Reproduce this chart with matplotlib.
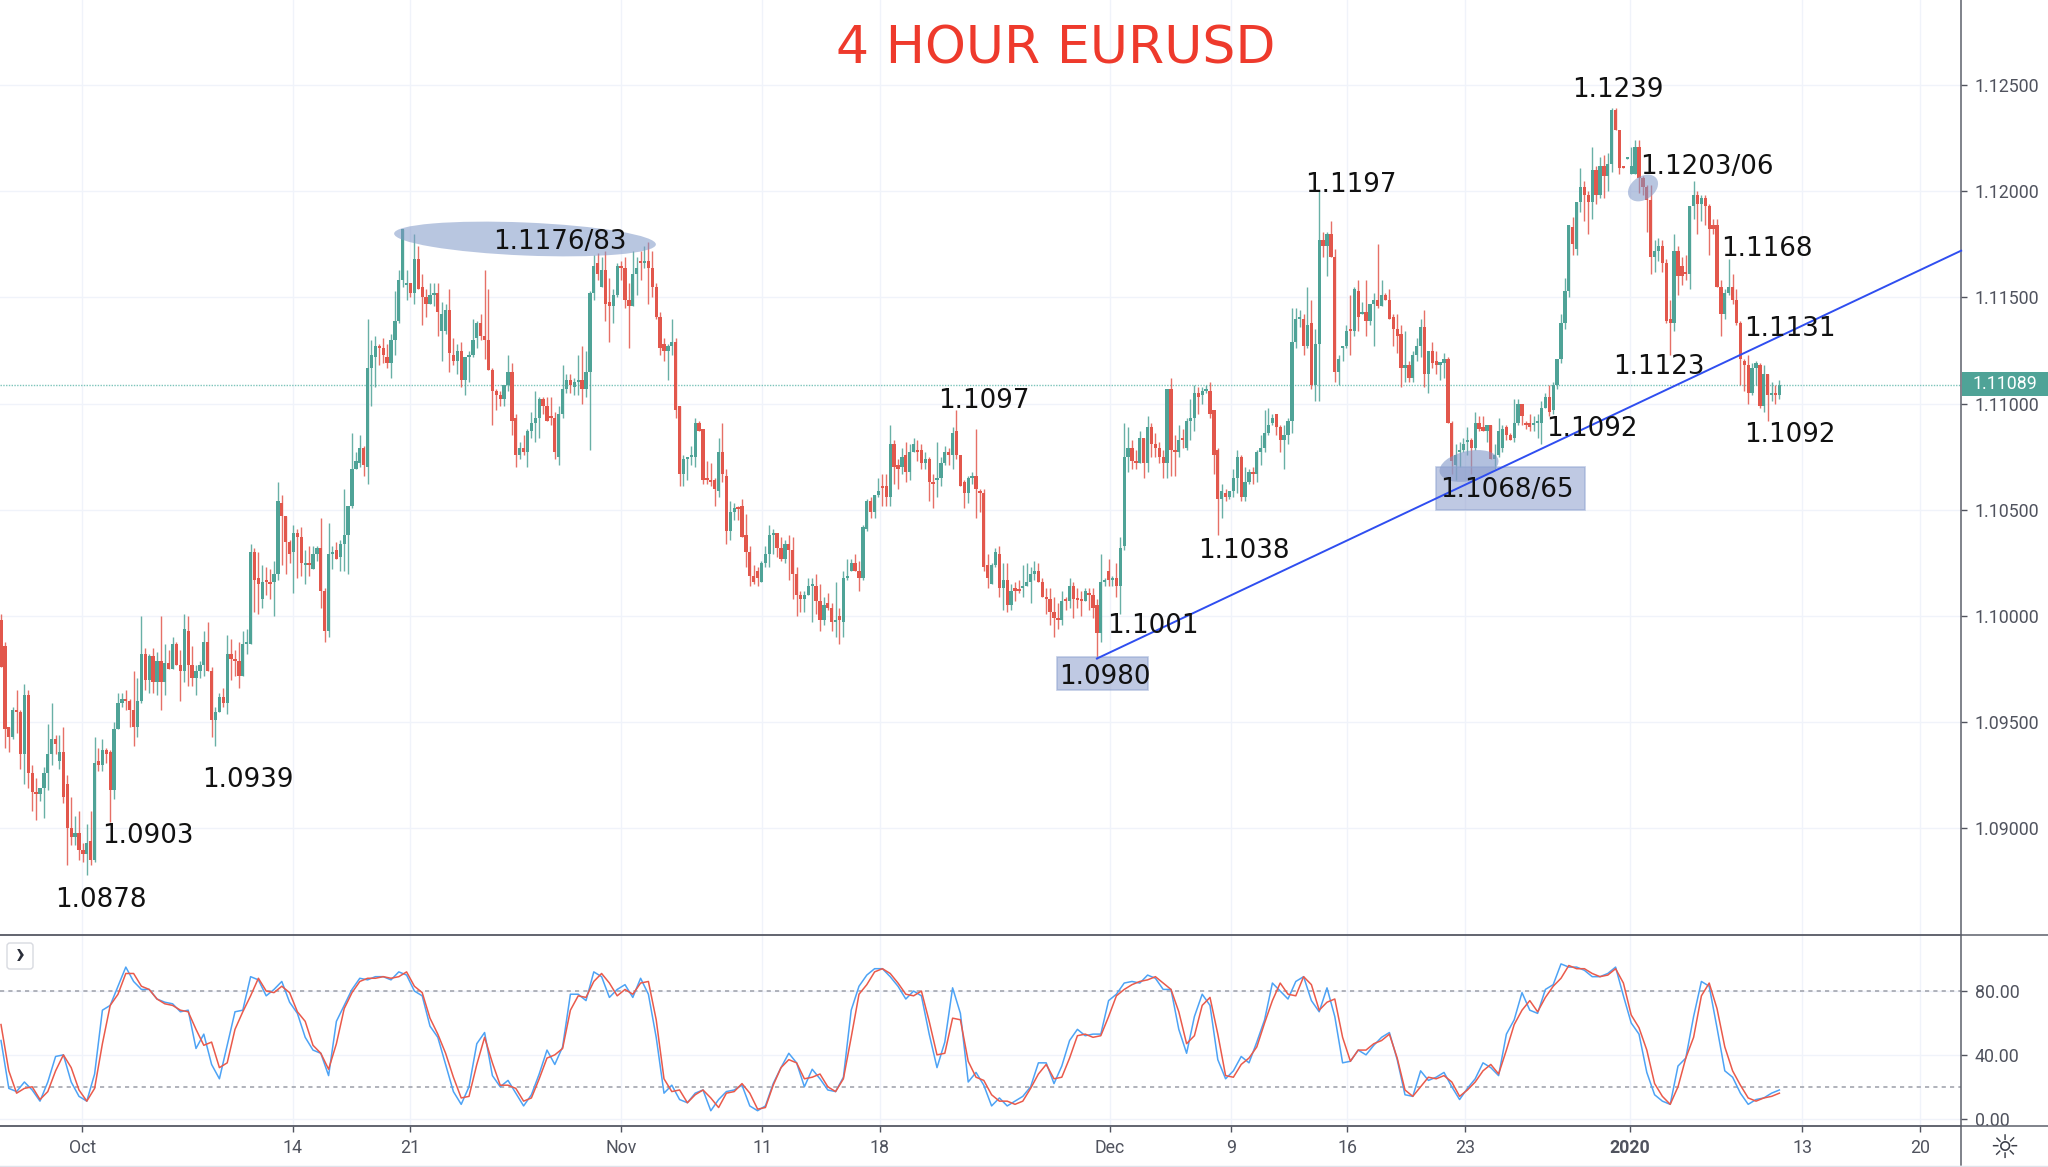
#4 hour EURUSD chart with stochastic pane
import numpy as np
import matplotlib
matplotlib.use('Agg')
import matplotlib.pyplot as plt
from matplotlib.patches import Ellipse, Rectangle, FancyBboxPatch

# candles are (open, high, low, close) in pips, 1000 = 1.1000
sep_bars = [
(998,1001,976,976),(986,988,938,947),(948,948,936,943),(943,957,942,956),(956,965,945,955),(955,956,928,935),
(935,968,921,963),(963,965,919,926),(926,930,908,917),(917,924,904,916),(916,919,913,919),(919,929,905,926),
(926,949,918,935),(935,959,930,942),(942,944,935,940),(932,944,928,936),(936,948,912,915),(921,925,883,900),
(900,915,892,896),(896,906,892,898),(898,908,885,890),(890,893,884,888),
]
oct_bars = [
(888,902,878,893),(894,908,883,885),(885,943,884,931),(932,938,927,930),(930,942,927,937),(937,938,931,935),
(936,937,903,918),(918,950,914,947),(947,964,947,959),(959,964,957,961),(961,965,956,960),(960,961,948,956),
(956,974,939,948),(948,971,943,960),(960,1000,959,982),(982,985,965,970),(970,982,964,981),(981,985,964,969),
(969,983,963,979),(979,1000,956,969),(969,987,963,978),(978,984,975,975),(975,990,975,987),(987,988,977,977),
(977,984,960,974),(974,1001,969,994),(993,1000,967,977),(977,986,967,971),(971,977,963,974),(974,979,971,977),
(977,993,972,988),(988,997,974,974),(974,976,943,951),(951,957,939,955),(955,964,955,962),(962,966,957,959),
(959,991,954,982),(982,989,970,980),(980,984,972,979),(979,988,966,972),(972,993,972,987),(987,994,982,988),
(987,1034,987,1030),(1030,1032,1002,1017),(1018,1030,1001,1015),(1008,1024,1004,1016),(1017,1023,1010,1016),(1016,1022,1008,1015),
(1016,1026,1000,1020),(1020,1063,1017,1054),(1053,1057,1024,1047),(1047,1047,1020,1035),(1035,1036,1025,1029),(1030,1043,1011,1039),
(1039,1041,1018,1037),
(1037,1042,1019,1025),(1024,1031,1015,1025),(1025,1033,1019,1024),(1022,1033,1022,1029),(1029,1033,1026,1032),(1032,1046,1004,1012),
(1012,1013,988,993),(993,1044,990,1029),(1029,1033,1022,1030),(1031,1035,1027,1027),(1028,1036,1021,1034),(1034,1060,1021,1038),
(1038,1052,1020,1052),(1052,1086,1051,1069),(1069,1077,1070,1073),(1072,1085,1070,1079),(1079,1080,1066,1071),(1070,1140,1062,1117),
(1117,1130,1099,1123),(1122,1132,1108,1127),(1127,1128,1118,1126),(1126,1131,1119,1123),(1122,1128,1117,1119),(1119,1133,1112,1130),
(1130,1153,1123,1139),(1139,1163,1138,1158),(1158,1182,1155,1182),(1156,1163,1149,1157),(1157,1157,1150,1152),(1152,1180,1147,1168),
(1168,1174,1154,1154),(1155,1161,1137,1150),(1150,1154,1141,1147),(1147,1157,1147,1151),(1151,1157,1146,1152),(1152,1157,1132,1143),
(1134,1148,1120,1142),(1134,1147,1133,1144),(1144,1154,1115,1124),(1123,1131,1118,1120),(1120,1128,1114,1125),(1125,1129,1108,1111),
(1111,1122,1104,1122),(1122,1125,1110,1123),(1123,1140,1122,1130),(1131,1139,1126,1138),(1138,1142,1130,1132),(1132,1163,1121,1130),
(1130,1154,1116,1116),(1116,1117,1090,1106),(1106,1107,1097,1104),(1104,1106,1099,1102),(1102,1109,1099,1109),(1109,1123,1106,1115),
(1115,1119,1085,1092),(1093,1095,1070,1076),(1076,1082,1074,1079),(1079,1085,1076,1077),(1077,1088,1070,1087),(1087,1096,1084,1091),
(1091,1106,1082,1093),(1093,1103,1084,1102),(1102,1103,1095,1099),(1099,1103,1092,1092),(1094,1103,1090,1093),(1093,1096,1074,1077),
(1075,1099,1071,1095),(1095,1118,1093,1107),(1107,1114,1105,1111),(1111,1114,1105,1109),(1108,1112,1104,1110),(1110,1123,1104,1111),
(1111,1127,1100,1107),(1107,1125,1103,1115),(1115,1153,1078,1152),(1152,1170,1149,1165),(1166,1171,1158,1161),
(1155,1169,1155,1163),(1163,1172,1139,1147),(1148,1159,1129,1146),(1146,1154,1138,1151),(1151,1166,1150,1165),
]
nov_bars = [
(1165,1167,1158,1164),(1164,1169,1145,1149),(1149,1157,1126,1146),(1146,1172,1146,1161),(1161,1169,1151,1164),(1167,1172,1158,1166),
(1166,1174,1164,1167),(1167,1176,1147,1164),(1164,1172,1150,1155),(1155,1157,1140,1141),(1141,1143,1123,1126),(1128,1131,1120,1125),
(1125,1128,1111,1127),(1127,1140,1123,1129),(1129,1131,1093,1097),(1099,1099,1061,1067),(1067,1076,1061,1074),(1074,1075,1064,1075),
(1075,1080,1071,1075.5),(1075,1093,1070,1091),(1091,1092,1087,1087),(1088,1088,1062,1064),(1065,1073,1062,1064),(1064,1072,1061,1063),
(1064,1065,1052,1060),(1059,1084,1056,1077),(1077,1091,1063,1067),(1066,1069,1034,1040),(1040,1054,1036,1049),(1049,1053,1045,1051),
(1051,1052,1045,1050.5),(1052,1055,1037,1037),(1038,1048,1023,1030),(1030,1033,1014,1019),(1019,1024,1015,1016),(1021,1023,1014,1018),
(1016,1026,1016,1025),(1025,1033,1023,1029),(1029,1043,1023,1038),(1038,1041,1029,1039),(1039,1039,1028,1032),(1032,1037,1026,1027),
(1027,1036,1025,1034),(1034,1038,1017,1031),(1031,1037,1008,1020),(1020,1023,1000,1010),(1010,1012,1002,1008),(1008,1012,1002,1010),
(1010,1018,1010,1014),(1014,1018,997,1014.5),(1014,1020,1001,1007),(1007,1015,993,998),(998,1009,996,1005),(1006,1011,1003,1004),
(1004,1006,993,997),(997,1016,990,998),(1000,1004,987,998),(997,1021,990,1018),(1018,1027,1017,1019),(1021,1027,1021,1025),
(1025,1029,1021,1021),(1021,1026,1012,1018),(1018,1043,1017,1042),(1041,1055,1040,1054),(1054,1056,1046,1049),(1049,1057,1046,1057),
(1057,1065,1056,1059),(1061,1067,1052,1060.5),(1061,1067,1052,1056),(1056,1090,1052,1081),(1081,1083,1062,1070),(1071,1074,1060,1069),
(1070,1079,1067,1075),(1076,1082,1063,1068),(1068,1081,1064,1077),(1077,1084,1077,1081),(1078,1083,1073,1077),(1078,1081,1069,1072),
(1072,1077,1069,1074),(1074,1075,1054,1063),(1063,1067,1051,1062),(1064,1082,1056,1065),(1065,1075,1061,1072),(1072,1080,1071,1077),
(1077,1079,1071,1076),(1076,1089,1069,1086),(1087,1097,1074,1076),(1076,1076,1061,1061),(1063,1064,1051,1058),(1058,1066,1053,1065),
(1065,1068,1062,1066),(1066,1088,1046,1060),(1059,1060,1049,1058),(1058,1060,1021,1023),(1024,1029,1013,1018),(1015,1025,1015,1024),
(1024,1032,1023,1030),(1029,1033,1009,1013),(1013,1025,1003,1017),(1017,1025,1002,1005),(1005,1015,1003,1012),(1013,1016,1007,1012),
(1012.5,1017,1011,1012),(1013,1024,1009,1014),(1014,1025,1014,1016),(1016,1023,1006,1020),(1020,1026,1017,1021),(1021,1025,1016,1016),
(1016,1018,1009,1009),(1009,1013,1001,1008),(1008,1013,996,1002),(1002,1009,990,999),(999,1006,994,998),(998,1012,996,1007),
(1008,1009,1003,1007),(1007,1018,1004,1014),(1014,1016,999,1008),(1008,1013,1004,1007.5),(1007.5,1012,1000,1007),(1007,1013,1007,1012),
(1011,1013,1003,1010),(1010,1013,999,1004),(1005,1008,980,992),
]
dec_bars = [
(992,1029,988,1016),(1016,1018,1014,1017),(1021,1027,1014,1017),(1017,1019,1014,1018),(1018,1025,1009,1014),(1014,1037,1001,1032),
(1033,1091,1031,1075),(1075,1089,1068,1079),(1079,1083,1069,1073),(1073,1078,1069,1072),(1072,1087,1072,1084),(1084,1084,1065,1072),
(1072,1094,1068,1089),(1089,1091,1075,1081),(1081,1086,1075,1079),(1079,1082,1072,1075),(1075,1078,1065,1072),(1072,1107,1065,1107),
(1107,1112,1066,1078),(1078,1085,1066,1077),(1077,1090,1075,1083),(1084,1088,1079,1083),(1079,1093,1078,1092),(1092,1102,1083,1093),
(1093,1109,1087,1105),(1105,1108,1095,1103),
(1104,1108,1100,1106),(1106,1109,1105,1106.5),(1106,1110,1093,1095),(1097,1097,1067,1076),(1078,1079,1038,1055),(1055,1062,1046,1059),
(1058,1060,1054,1056),(1056,1059,1055,1059),(1059,1069,1056,1065),(1065,1078,1058,1075),(1075,1076,1054,1056),(1056,1070,1054,1063),
(1063,1069,1062,1068),(1068,1070,1062,1067),(1067,1078,1063,1077),(1077,1085,1071,1079),(1079,1097,1077,1086),(1086,1098,1085,1090),
(1091,1095,1090,1093),(1095,1095,1085,1089),(1089,1090,1077,1083),(1083,1090,1069,1085),(1085,1093,1081,1092),(1092,1145,1086,1129),
(1129,1145,1126,1140),(1140,1144,1136,1140.5),(1140,1142,1123,1127),(1127,1155,1126,1137),(1138,1149,1107,1109),(1109,1135,1101,1128),
(1128,1200,1101,1177),(1177,1181,1169,1174),(1174,1181,1160,1180),(1180,1186,1169,1169),(1169,1173,1110,1115),(1115,1123,1109,1121),
(1126,1127,1120,1127),(1127,1137,1126,1134),(1135,1151,1123,1134),(1134,1155,1132,1154),(1153,1158,1134,1141),(1142,1148,1142,1143),
(1143,1158,1132,1139),(1139,1147,1137,1147),(1147,1152,1127,1149),(1149,1175,1145,1146),(1146,1158,1146,1151),(1151,1152,1149,1149),
(1149,1154,1140,1140),(1141,1142,1127,1135),(1135,1142,1124,1132),(1133,1137,1108,1117),(1117,1134,1110,1118),(1118,1120,1110,1112),
(1112,1125,1110,1123),(1123,1131,1120,1127),(1127,1140,1122,1136),(1136,1144,1108,1114),(1114,1125,1105,1125),(1125,1129,1117,1119),
(1120,1125,1114,1118),(1118,1119.5,1111,1119.5),(1119,1124,1112,1121),(1121,1122,1091,1091),(1091,1092,1067,1073),(1071,1081,1064,1076),
(1077,1082,1070,1078),(1078,1084,1077,1081),(1082,1089,1076,1083),(1083,1084,1067,1079),(1079,1096,1078,1091),(1091,1094,1087,1088),
(1089,1094,1087,1087),(1087,1090,1082,1090),(1090,1090,1074,1074),(1074,1081,1069,1076),(1076,1093,1075,1087),
(1079,1090,1077,1088),(1089,1090,1083,1085),(1085,1086,1083,1083),(1084,1102,1082,1091),(1091,1102,1090,1100),(1100,1100,1090,1094),
(1091,1092,1088,1090),(1091,1095,1087,1089),(1090,1094,1087,1091),(1091,1095,1084,1092),(1091,1101,1081,1098),(1098,1105,1098,1103),
(1103,1109,1094,1096),(1097,1110,1095,1109),(1109,1121,1107,1121),(1121,1142,1119,1138),(1138,1159,1135,1153),(1153,1184,1150,1184),
(1183,1188,1170,1175),(1173,1195,1170,1195),(1195,1211,1190,1202),(1202,1205,1186,1198),(1198,1200,1180,1195),(1195,1221,1187,1210),
(1210,1212,1194,1198),(1198,1216,1197,1212),(1212,1217,1197,1207),(1207,1218,1200,1213),(1213,1239,1209,1238),(1238,1239,1229,1229),
(1229,1229,1208,1211),(1212,1212,1211,1211),(1215,1215.5,1215,1215.5),
]
jan_bars = [
(1208,1221,1208,1212),(1208,1224,1208,1221),(1221,1224,1199,1206),(1206,1207,1198,1202),(1202,1203,1181,1196),(1196,1203,1161,1169),
(1169,1177,1162,1172),(1172,1178,1167,1174),(1174,1177,1162,1166),(1166,1168,1138,1139),(1140,1149,1123,1138),(1138,1180,1134,1172),
(1172,1174,1151,1160),(1165,1169,1156,1160),(1162,1170,1158,1161),(1161,1193,1154,1193),(1193,1205,1187,1198),(1198,1200,1180,1194),
(1194,1198,1186,1197),(1197,1198,1184,1193),(1193,1194,1170,1182),(1184,1187,1180,1182),(1184,1187,1155,1155),(1155,1158,1132,1142),
(1142,1154,1140,1152),(1152,1168,1151,1155),(1155,1161,1147,1149),(1149,1154,1137,1138),(1138,1139,1109,1121),(1120,1121,1106,1118),
(1118,1123,1100,1105),(1105,1119,1104,1117),(1117,1120,1109,1119),(1118,1119,1098,1099),(1099,1118,1096,1114),(1114,1114,1092,1104),
(1104,1110,1101,1105),(1105,1109,1100,1104),(1104,1111,1102,1109),
]

# stochastic, one reading every second bar
stoch_k = [
49,19,17,23,18,11,23,39,40,23,14,11,28,68,71,83,95,86,81,81,75,73,72,67,68,44,53,34,25,46,
67,68,89,87,77,81,86,73,66,51,43,41,27,61,71,81,88,87,89,89,87,92,90,80,77,58,51,34,17,9,
20,47,54,27,20,24,16,8,15,28,43,34,45,78,78,74,92,89,76,81,84,76,88,78,51,16,21,12,10,16,
18,5,12,17,18,21,8,5,8,22,32,41,35,20,31,25,18,17,26,68,83,90,94,94,89,83,75,80,77,53,
32,48,82,66,23,29,21,8,13,8,11,14,20,35,35,22,33,49,56,52,53,53,74,78,85,86,85,90,88,81,
81,56,41,64,78,71,37,25,30,39,35,48,62,85,80,75,86,89,74,67,82,64,35,36,43,40,46,
51,54,37,15,14,30,24,26,29,20,12,19,25,35,32,27,53,62,79,68,66,81,84,97,95,95,93,89,89,91,
95,77,60,53,29,15,11,9,33,38,64,86,83,57,30,26,16,9,12,13,16,18,
]
stoch_d = [
59,30,16,19,20,12,17,30,40,32,18,11,19,47,71,78,91,91,83,81,75,72,71,68,67,56,46,48,32,35,
56,67,77,88,80,79,83,79,67,61,46,41,31,47,69,79,86,88,88,89,88,89,92,83,79,63,53,41,26,13,
14,34,51,35,21,21,19,11,13,25,38,40,44,68,77,76,86,91,85,77,81,78,85,86,62,25,17,18,10,15,
18,13,7,16,17,22,16,6,7,21,32,37,35,25,26,28,20,17,25,51,78,84,92,94,91,85,78,77,80,61,
40,41,63,62,36,26,24,15,11,11,9,11,19,28,34,25,26,38,52,53,51,52,64,77,81,84,86,87,89,85,
81,67,47,52,71,76,53,27,26,34,38,45,60,74,85,78,77,89,84,68,73,75,51,36,43,43,47,
49,53,38,18,14,20,26,25,27,23,14,18,23,30,34,28,43,59,68,74,67,76,83,88,96,94,94,91,89,90,
94,85,65,57,43,22,14,9,20,38,51,77,85,69,45,30,21,13,11,13,14,16,
]

# x positions of the date ticks, in bars
tick_bars = [20.8, 74.8, 105, 159.1, 195.2, 225.3, 284.3, 315.4, 345.2, 375.4, 417.7, 461.8, 492.1]
tick_names = ['Oct', '14', '21', 'Nov', '11', '18', 'Dec', '9', '16', '23', '2020', '13', '20']
price_ticks = [900, 950, 1000, 1050, 1100, 1150, 1200, 1250]
last_price = 1108.9
trend_bars = [281, 502.6]
trend_pips = [980, 1172]

notes = ['1.0878', '1.0903', '1.0939', '1.1176/83', '1.1097', '1.1001', '1.0980', '1.1038', '1.1197',
         '1.1239', '1.1203/06', '1.1168', '1.1131', '1.1123', '1.1092', '1.1092', '1.1068/65']
notes_x = [77, 113, 190, 429, 753, 883, 846, 952, 1034, 1239, 1307, 1353, 1370, 1270, 1219, 1370, 1154]
notes_y = [687, 638, 595, 183, 305, 477, 516, 420, 140, 67, 126, 189, 250, 279, 326, 331, 373]

W, H = 2048, 1167
AXIS_X, SPLIT_Y, LOWER_Y = 1961, 934.7, 1126.3
GREEN, RED = '#4fa397', '#e2574c'
TEXT = '#50535e'
GRID = '#f0f3fa'
plt.rcParams['font.family'] = ['Roboto', 'DejaVu Sans']

fig = plt.figure(figsize=(W/100, H/100), dpi=100)
ax = fig.add_axes([0, 1-SPLIT_Y/H, AXIS_X/W, SPLIT_Y/H])
ax2 = fig.add_axes([0, 1-LOWER_Y/H, AXIS_X/W, (LOWER_Y-SPLIT_Y)/H])
over = fig.add_axes([0, 0, 1, 1], zorder=5)
over.patch.set_alpha(0)

xlim = (-1/3.9, (AXIS_X-1)/3.9)

candles = np.array(sep_bars + oct_bars + nov_bars + dec_bars + jan_bars, dtype=float)
xs = np.arange(len(candles))
o, c = candles[:, 0], candles[:, 3]
hi = np.maximum(candles[:, 1], np.maximum(o, c))
lo = np.minimum(candles[:, 2], np.minimum(o, c))
cols = [GREEN if b >= a else RED for a, b in zip(o, c)]

ax.vlines(xs, lo, hi, colors=cols, lw=1.0, alpha=0.85, zorder=3)
ax.bar(xs, np.maximum(np.abs(c-o), 0.9), bottom=np.minimum(o, c), width=0.84, color=cols, lw=0, zorder=4)
ax.axhline(last_price, color='#7cc4ba', lw=1.0, ls=(0, (1, 1)), zorder=2)

ax.set_xlim(xlim)
ax.set_ylim(850, 1290)
ax.set_xticks(tick_bars)
ax.set_yticks(price_ticks)
ax.set_yticklabels(['%.5f' % (1+p/10000.) for p in price_ticks])
ax.yaxis.tick_right()
ax.tick_params(axis='x', length=0, labelbottom=False)
ax.tick_params(axis='y', length=4, width=1, color=TEXT, labelcolor=TEXT, labelsize=12.8, pad=6)
ax.grid(True, color=GRID, lw=1)
ax.set_axisbelow(True)
for s in ['top', 'left', 'bottom']:
    ax.spines[s].set_visible(False)
ax.spines['right'].set_color('#5d606b')
ax.spines['right'].set_linewidth(1.1)

# stochastic pane
ax2.axhline(80, color='#a3a6af', lw=1.2, ls=(0, (2.5, 2.5)), zorder=2)
ax2.axhline(20, color='#a3a6af', lw=1.2, ls=(0, (2.5, 2.5)), zorder=2)
ax2.plot(np.arange(len(stoch_k))*2, stoch_k, color='#4da3f5', lw=1.1, zorder=3)
ax2.plot(np.arange(len(stoch_d))*2, stoch_d, color='#ea5a4b', lw=1.1, zorder=4)
ax2.set_xlim(xlim)
ax2.set_ylim(-4.76, 115.3)
ax2.set_xticks(tick_bars)
ax2.set_xticklabels(tick_names)
ax2.set_yticks([0, 40, 80])
ax2.set_yticklabels(['0.00', '40.00', '80.00'])
ax2.yaxis.tick_right()
ax2.tick_params(axis='x', length=4, width=1, color=TEXT, labelcolor=TEXT, labelsize=12.8, pad=5)
ax2.tick_params(axis='y', length=4, width=1, color=TEXT, labelcolor=TEXT, labelsize=12.8, pad=6)
ax2.get_xticklabels()[10].set_fontweight('bold')
ax2.grid(True, color=GRID, lw=1)
ax2.set_axisbelow(True)
ax2.spines['left'].set_visible(False)
for s in ['top', 'bottom', 'right']:
    ax2.spines[s].set_color('#5d606b')
    ax2.spines[s].set_linewidth(1.1)

# drawings on top of the chart, in picture pixels
over.set_xlim(0, W)
over.set_ylim(H, 0)
over.axis('off')
shade = '#7f97c8'
over.add_patch(Ellipse((525, 239), 262, 33, angle=2.4, fc=shade, ec='none', alpha=0.55, zorder=2))
over.add_patch(Ellipse((1643, 188), 33, 23, angle=-35, fc=shade, ec='none', alpha=0.55, zorder=2))
over.add_patch(Ellipse((1469, 466), 60, 30, angle=-12, fc=shade, ec='none', alpha=0.6, zorder=2))
over.add_patch(Rectangle((1057, 657), 91, 33, fc='#8c9dcc', ec='#8ea3d0', lw=1.2, alpha=0.55, zorder=2))
over.add_patch(Rectangle((1436, 467), 148.5, 43, fc='#8c9dcc', ec='#8ea3d0', lw=1.2, alpha=0.55, zorder=2))
over.plot(trend_bars, trend_pips, color='#2f4ef0', lw=1.4, transform=ax.transData, zorder=3, clip_on=False)

for t, x, y in zip(notes, notes_x, notes_y):
    over.text(x*W/1568., y*H/893.+2.5, t, ha='center', va='center', fontsize=18.8, color='#111111',
              family='DejaVu Sans', zorder=4)
over.text(1056, 49, '4 HOUR EURUSD', ha='center', va='center', fontsize=37.5, color='#ee3a2c',
          family='DejaVu Sans', zorder=4)

# price tag, panel button, settings icon
over.add_patch(Rectangle((AXIS_X+1, 372), W-AXIS_X, 24, fc=GREEN, ec='none', zorder=2))
over.text(2005, 384, '1.11089', ha='center', va='center', fontsize=12.8, color='white', zorder=4)
over.add_patch(FancyBboxPatch((7, 943), 26, 26, boxstyle='round,pad=0,rounding_size=3', fc='white', ec='#d8dae0', lw=1, zorder=2))
over.text(20, 955, '\u203a', ha='center', va='center', fontsize=21, fontweight='bold', color='#2a2e39', zorder=4)
over.text(2004, 1148.5, '\u263c', ha='center', va='center', fontsize=24, color='#3b3e48', family='DejaVu Sans', zorder=4)
over.plot([AXIS_X, AXIS_X], [LOWER_Y, 1165], color='#5d606b', lw=1.1, zorder=3)
over.plot([0, W], [SPLIT_Y, SPLIT_Y], color='#5d606b', lw=1.1, zorder=3)
over.plot([0, W], [LOWER_Y, LOWER_Y], color='#5d606b', lw=1.1, zorder=3)
over.plot([0, W], [1166, 1166], color='#e0e3eb', lw=1, zorder=3)

fig.savefig('out.png', dpi=100, facecolor='white')
